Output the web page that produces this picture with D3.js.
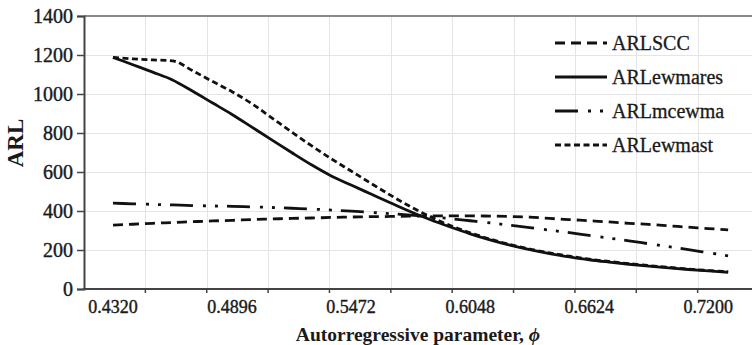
<!DOCTYPE html>
<html>
<head>
<meta charset="utf-8">
<script src="https://cdn.jsdelivr.net/npm/d3@7"></script>
<style>
  html, body { margin: 0; padding: 0; background: #fff; }
  svg { display: block; }
</style>
</head>
<body>
<div id="chart"></div>
<script>
(function () {
  // autoregressive parameter values (x)
  const PHI = [0.4320,0.4416,0.4512,0.4608,0.4704,0.4800,0.4896,0.4992,0.5088,0.5184,
               0.5280,0.5376,0.5472,0.5568,0.5664,0.5760,0.5856,0.5952,0.6048,0.6144,
               0.6240,0.6336,0.6432,0.6528,0.6624,0.6720,0.6816,0.6912,0.7008,0.7104,
               0.7200,0.7296];

  const ARL_SCC = [328,332,337,341,345,349,352,356,359,362,364,367,369,371,372,374,
                   375,375,375,374,372,369,362,356,350,344,337,331,324,317,310,303];
  const ARL_EWMARES = [1188,1150,1112,1072,1015,955,895,830,765,700,637,580,533,487,441,396,
                       355,318,283,252,225,202,182,165,150,138,127,117,108,100,93,86];
  const ARL_MCEWMA = [440,437,434,431,428,426,424,421,418,414,410,405,399,393,386,379,
                      370,361,350,339,327,315,302,289,275,261,247,232,217,202,186,170];
  const ARL_EWMAST = [1188,1180,1175,1170,1120,1065,1012,950,878,805,735,668,605,542,480,422,
                      370,325,288,256,228,205,185,168,153,141,130,120,111,102,95,89];

  const X_TICKS = [0.4320, 0.4896, 0.5472, 0.6048, 0.6624, 0.7200];
  const Y_TICKS = [0, 200, 400, 600, 800, 1000, 1200, 1400];
  const LEGEND_NAMES = ["ARLSCC", "ARLewmares", "ARLmcewma", "ARLewmast"];

  const W = 752, H = 345;
  const SERIF = "'Liberation Serif', 'DejaVu Serif', serif";
  const INK = "#111";
  const TXT = "#1a1a1a";

  const series = [
    { name: LEGEND_NAMES[0], values: ARL_SCC,     dash: "10,6" },
    { name: LEGEND_NAMES[1], values: ARL_EWMARES, dash: null },
    { name: LEGEND_NAMES[2], values: ARL_MCEWMA,  dash: "23,10,3,9,3,9" },
    { name: LEGEND_NAMES[3], values: ARL_EWMAST,  dash: "6,3.5" }
  ];

  const plot = { left: 84, right: 759, top: 16, bottom: 289 };

  const x = d3.scaleLinear().domain([0.41797, 0.74259]).range([plot.left, 755]);
  const y = d3.scaleLinear().domain([0, 1400]).range([plot.bottom, plot.top]);
  // Excel-style vertical gridlines, 11 intervals across the plot
  const gx = d3.scaleLinear().domain([0, 11]).range([plot.left, plot.right]);

  const svg = d3.select("#chart").append("svg")
    .attr("width", W)
    .attr("height", H);

  // ---------- grid ----------
  const grid = svg.append("g").attr("stroke", "#e4e4e4").attr("stroke-width", 1);
  grid.selectAll("line.h")
    .data(Y_TICKS.slice(1, -1))
    .join("line")
    .attr("class", "h")
    .attr("x1", plot.left).attr("x2", W)
    .attr("y1", d => Math.round(y(d)) + 0.5)
    .attr("y2", d => Math.round(y(d)) + 0.5);
  grid.selectAll("line.v")
    .data(d3.range(1, 11))
    .join("line")
    .attr("class", "v")
    .attr("x1", d => Math.round(gx(d)) + 0.5)
    .attr("x2", d => Math.round(gx(d)) + 0.5)
    .attr("y1", plot.top).attr("y2", plot.bottom);

  // top border
  svg.append("line")
    .attr("x1", plot.left).attr("x2", W)
    .attr("y1", y(1400)).attr("y2", y(1400))
    .attr("stroke", "#8a8a8a").attr("stroke-width", 2);

  // ---------- series ----------
  const line = d3.line()
    .x((d, i) => x(PHI[i]))
    .y(d => y(d))
    .curve(d3.curveMonotoneX);

  svg.append("g").selectAll("path")
    .data(series)
    .join("path")
    .attr("fill", "none")
    .attr("stroke", INK)
    .attr("stroke-width", 2.8)
    .attr("stroke-dasharray", d => d.dash)
    .attr("d", d => line(d.values));

  // ---------- axes ----------
  const axisY = svg.append("g")
    .attr("transform", `translate(${plot.left},0)`)
    .call(d3.axisLeft(y).tickValues(Y_TICKS).tickFormat(d3.format("d")).tickSize(7).tickPadding(4));
  axisY.select(".domain").attr("stroke", "#444").attr("stroke-width", 2);
  axisY.selectAll("line").attr("stroke", "#444").attr("stroke-width", 1.5);
  axisY.selectAll("text")
    .attr("font-family", SERIF).attr("font-size", 20).attr("fill", TXT)
    .attr("stroke", TXT).attr("stroke-width", 0.4);

  // x baseline and ticks at the gridlines
  svg.append("line")
    .attr("x1", plot.left - 1).attr("x2", W)
    .attr("y1", plot.bottom).attr("y2", plot.bottom)
    .attr("stroke", "#444").attr("stroke-width", 2);
  svg.append("g").selectAll("line")
    .data(d3.range(1, 11))
    .join("line")
    .attr("x1", d => gx(d)).attr("x2", d => gx(d))
    .attr("y1", plot.bottom).attr("y2", plot.bottom + 4)
    .attr("stroke", "#444").attr("stroke-width", 1.5);

  svg.append("g").selectAll("text")
    .data(X_TICKS)
    .join("text")
    .attr("x", d => x(d))
    .attr("y", 313)
    .attr("text-anchor", "middle")
    .attr("font-family", SERIF).attr("font-size", 18).attr("fill", TXT)
    .attr("stroke", TXT).attr("stroke-width", 0.4)
    .text(d => d.toFixed(4));

  // ---------- titles ----------
  const xt = svg.append("text")
    .attr("x", 418).attr("y", 341)
    .attr("text-anchor", "middle")
    .attr("font-family", SERIF).attr("font-size", 19.5).attr("font-weight", "bold")
    .attr("fill", TXT);
  xt.append("tspan").text("Autorregressive parameter, ");
  xt.append("tspan").attr("font-style", "italic").text("\u03d5");

  svg.append("text")
    .attr("transform", "translate(23,143) rotate(-90)")
    .attr("text-anchor", "middle")
    .attr("font-family", SERIF).attr("font-size", 23).attr("font-weight", "bold")
    .attr("fill", TXT)
    .text("ARL");

  // ---------- legend ----------
  const legend = svg.append("g").attr("transform", "translate(555,43)");
  const rows = legend.selectAll("g")
    .data(series)
    .join("g")
    .attr("transform", (d, i) => `translate(0,${i * 34})`);
  rows.append("line")
    .attr("x1", 0).attr("x2", 52)
    .attr("stroke", INK).attr("stroke-width", 2.8)
    .attr("stroke-dasharray", d => d.dash);
  rows.append("text")
    .attr("x", 57).attr("dy", "0.35em")
    .attr("font-family", SERIF).attr("font-size", 20).attr("fill", TXT)
    .attr("stroke", TXT).attr("stroke-width", 0.3)
    .text(d => d.name);
})();
</script>
</body>
</html>
